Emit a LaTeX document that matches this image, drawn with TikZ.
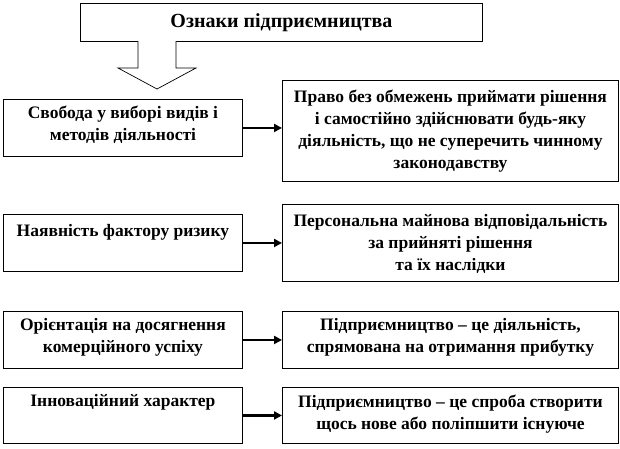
\documentclass[tikz,border=0pt]{standalone}
\usepackage{fontspec}
\setmainfont{Liberation Serif}
\usetikzlibrary{arrows.meta}
\tikzset{
  bx/.style={draw, line width=0.9pt, inner sep=0pt, anchor=north west},
  conn/.style={line width=2.6pt, -{Triangle[length=8pt,width=8pt]}, shorten >=0pt},
  blockarrow/.style={draw, line width=0.7pt, fill=white, line join=miter}
}
% name, x, y, width, height, first baseline offset, text
\newcommand{\mkbox}[7]{%
  \node[bx] (#1) at (#2,#3) {\parbox[c][#5pt][t]{#4pt}{\centering\fontsize{17.5}{22}\selectfont\bfseries\rule{0pt}{#6pt}#7\par}};}
\begin{document}
\begin{tikzpicture}[x=1pt,y=-1pt]
\useasboundingbox (0,0) rectangle (620,448);
% title
\node[bx, anchor=north west, minimum width=402pt, minimum height=38pt, font=\fontsize{20}{24}\selectfont\bfseries] (title) at (80,3) {Ознаки підприємництва};
% block arrow
\draw[blockarrow] (138,41) -- (138,68) -- (118,68) -- (157,89) -- (196,68) -- (176,68) -- (176,41);
% left column
\mkbox{L1}{3}{99}{239}{57}{19}{Свобода у виборі видів і\\методів діяльності}
\mkbox{L2}{3}{214}{239}{57}{22}{Наявність фактору ризику}
\mkbox{L3}{3}{311}{239}{57}{19}{Орієнтація на досягнення\\комерційного успіху}
\mkbox{L4}{3}{387}{239}{56}{19}{Інноваційний характер}
% right column
\mkbox{R1}{282}{80}{336}{101}{22}{Право без обмежень приймати рішення\\і самостійно здійснювати будь-яку\\діяльність, що не суперечить чинному\\законодавству}
\mkbox{R2}{282}{204}{336}{77}{22}{Персональна майнова відповідальність\\за прийняті рішення\\та їх наслідки}
\mkbox{R3}{282}{311}{336}{57}{19}{Підприємництво – це діяльність,\\спрямована на отримання прибутку}
\mkbox{R4}{282}{387}{336}{56}{20}{Підприємництво – це спроба створити\\щось нове або поліпшити існуюче}
% connectors
\draw[conn] (L1.east) -- (L1.east -| R1.west);
\draw[conn] (L2.east) -- (L2.east -| R2.west);
\draw[conn] (L3.east) -- (L3.east -| R3.west);
\draw[conn] (L4.east) -- (L4.east -| R4.west);
\end{tikzpicture}
\end{document}
